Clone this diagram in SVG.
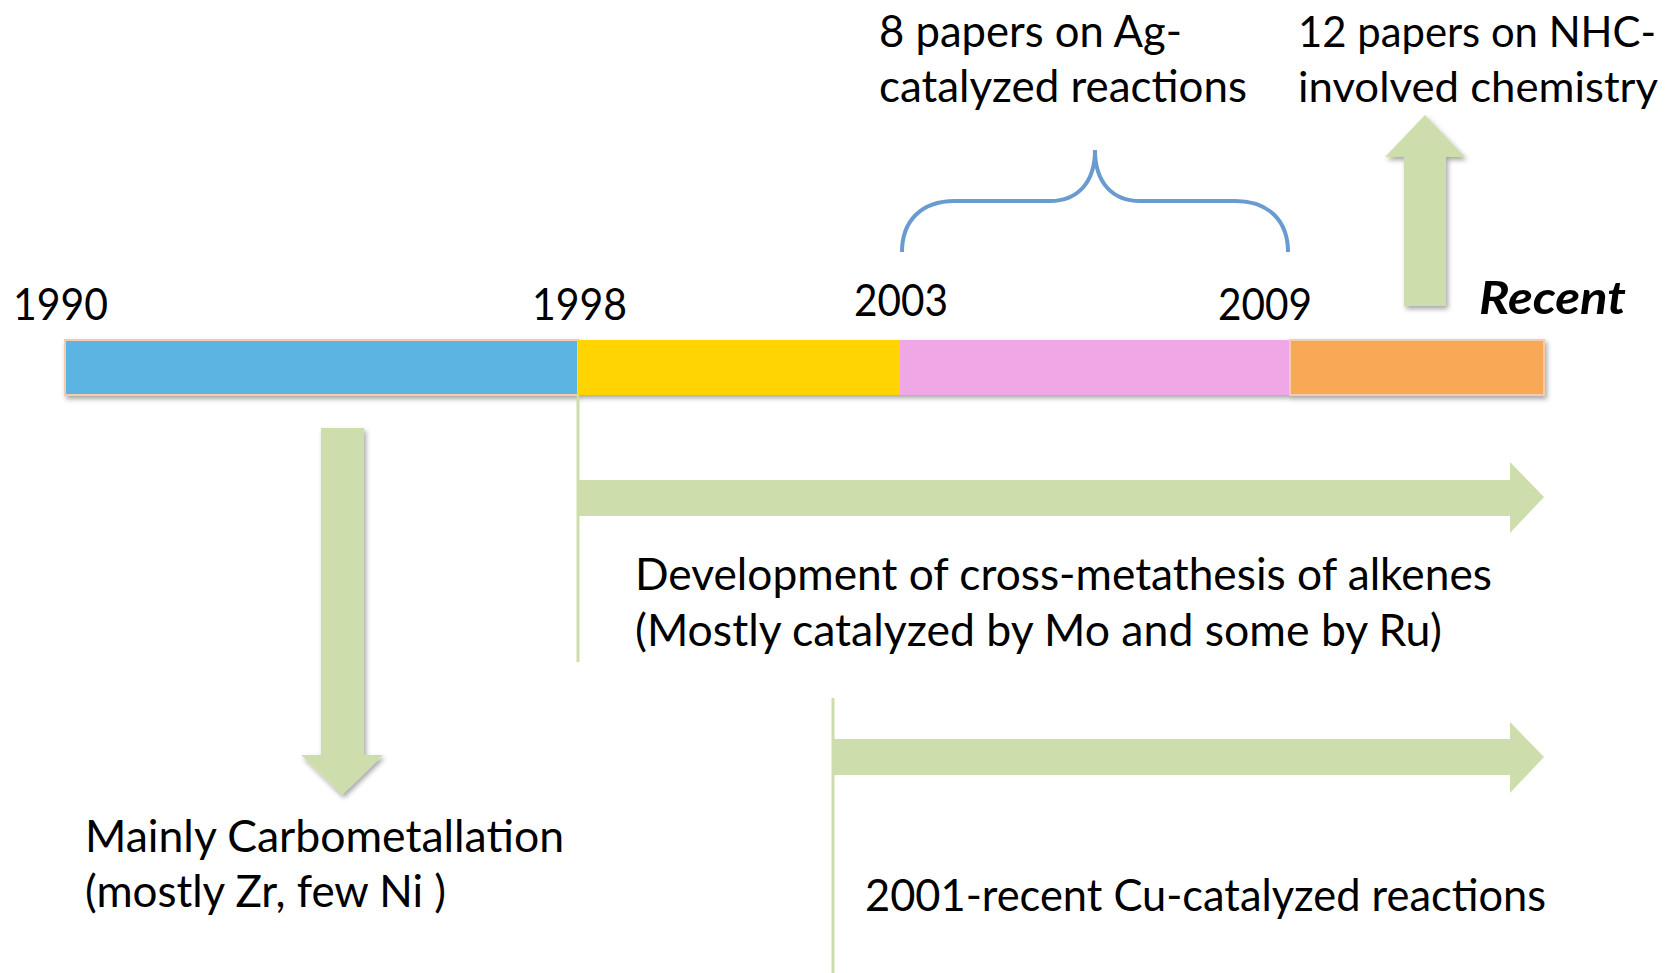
<svg xmlns="http://www.w3.org/2000/svg" width="1667" height="973" viewBox="0 0 1667 973">
<defs>
<filter id="sh" x="-10%" y="-10%" width="130%" height="130%">
<feDropShadow dx="2" dy="3" stdDeviation="2.5" flood-color="#000" flood-opacity="0.35"/>
</filter>
</defs>
<style>
text{font-family:Lato,"Open Sans","Liberation Sans",sans-serif;font-size:44px;fill:#000}
.bi{font-weight:bold;font-style:italic;font-size:46px}
.edge{font-size:42px}
.arrow{fill:#CDDDAC}
.vline{stroke:#CDDDAC;stroke-width:3;fill:none}
.brace{stroke:#6A9BD0;stroke-width:4;fill:none}
</style>
<rect width="1667" height="973" fill="#fff"/>
<g id="timeline-bar" filter="url(#sh)">
<rect x="65" y="340" width="513" height="55" fill="#5BB4E2" stroke="#F6CBAA" stroke-width="2"/>
<rect x="578" y="340" width="322" height="55" fill="#FFD400"/>
<rect x="900" y="340" width="390" height="55" fill="#EFA8E5"/>
<rect x="1290" y="340" width="254" height="55" fill="#F9A857" stroke="#F6CBAA" stroke-width="2"/>
</g>
<g id="year-labels">
<text x="13" y="320" textLength="95" lengthAdjust="spacingAndGlyphs">1990</text>
<text x="532" y="320" textLength="95" lengthAdjust="spacingAndGlyphs">1998</text>
<text x="854" y="316" textLength="94" lengthAdjust="spacingAndGlyphs">2003</text>
<text x="1218" y="320" textLength="94" lengthAdjust="spacingAndGlyphs">2009</text>
<text class="bi" x="1479" y="314" textLength="147" lengthAdjust="spacingAndGlyphs">Recent</text>
</g>
<g id="connectors">
<path class="vline" d="M578 395 V662"/>
<path class="vline" d="M833 698 V973"/>
<path class="arrow" d="M578 480 H1510 V462 L1544 497 L1510 533 V516 H578 Z"/>
<path class="arrow" d="M833 739 H1510 V722 L1544 757 L1510 793 V775 H833 Z"/>
<path class="arrow" filter="url(#sh)" d="M321 428 H364 V755 H383 L342 795 L301 755 H321 Z"/>
<path class="arrow" filter="url(#sh)" d="M1404 306 V157 H1385 L1425 115 L1465 157 H1446 V306 Z"/>
<path class="brace" d="M902 252 C902 222 920 201 955 201 L1050 201 C1078 201 1095 182 1095 150 C1095 182 1112 201 1140 201 L1235 201 C1270 201 1288 222 1288 252"/>
</g>
<g id="ag-note">
<text x="879" y="47" textLength="303" lengthAdjust="spacingAndGlyphs">8 papers on Ag-</text>
<text x="879" y="102" textLength="368" lengthAdjust="spacingAndGlyphs">catalyzed reactions</text>
</g>
<g id="nhc-note">
<text class="edge" x="1298" y="47" textLength="358" lengthAdjust="spacingAndGlyphs">12 papers on NHC-</text>
<text class="edge" x="1298" y="102" textLength="360" lengthAdjust="spacingAndGlyphs">involved chemistry</text>
</g>
<g id="metathesis-note">
<text x="635" y="590" textLength="857" lengthAdjust="spacingAndGlyphs">Development of cross-metathesis of alkenes</text>
<text x="635" y="646" textLength="807" lengthAdjust="spacingAndGlyphs">(Mostly catalyzed by Mo and some by Ru)</text>
</g>
<g id="carbometallation-note">
<text x="85" y="852" textLength="479" lengthAdjust="spacingAndGlyphs">Mainly Carbometallation</text>
<text x="85" y="907" textLength="361" lengthAdjust="spacingAndGlyphs">(mostly Zr, few Ni )</text>
</g>
<g id="cu-note">
<text x="865" y="911" textLength="681" lengthAdjust="spacingAndGlyphs">2001-recent Cu-catalyzed reactions</text>
</g>
</svg>
